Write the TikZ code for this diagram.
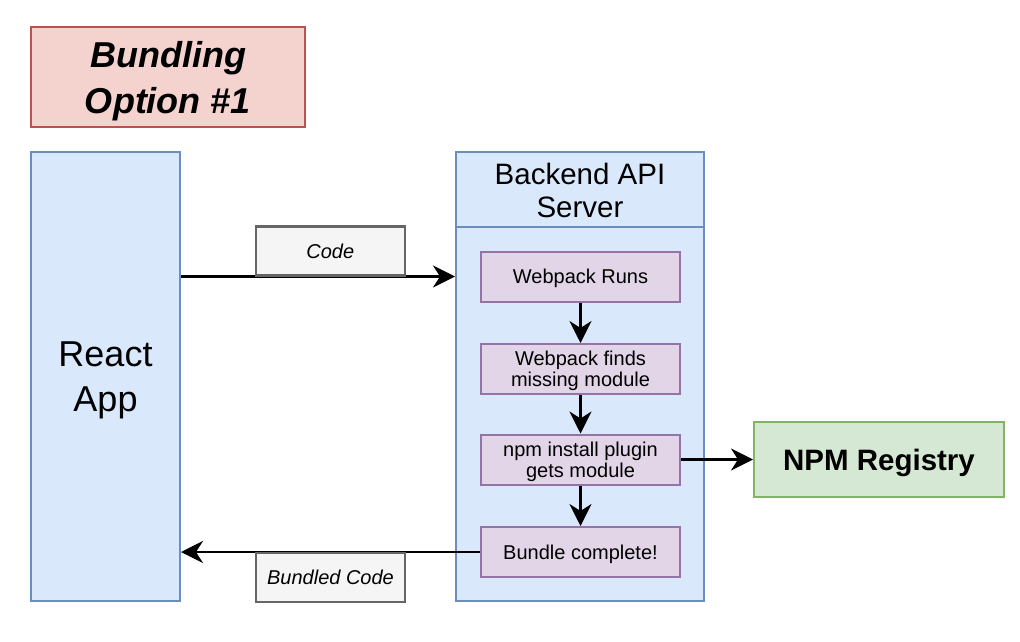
\documentclass[tikz,border=0pt]{standalone}
\usepackage{fontspec}
\setmainfont{Liberation Sans}
\usetikzlibrary{arrows.meta}
\definecolor{redfill}{HTML}{F4D3CF}
\definecolor{redline}{HTML}{B85450}
\definecolor{bluefill}{HTML}{DAE8FC}
\definecolor{blueline}{HTML}{6C8EBF}
\definecolor{purplefill}{HTML}{E1D5E7}
\definecolor{purpleline}{HTML}{9673A6}
\definecolor{greenfill}{HTML}{D5E8D4}
\definecolor{greenline}{HTML}{82B366}
\definecolor{grayfill}{HTML}{F5F5F5}
\definecolor{grayline}{HTML}{666666}
\begin{document}
\begin{tikzpicture}[x=1pt,y=-1pt,line width=2pt,
  every node/.append style={font=\fontsize{20}{21}\selectfont,align=center,inner sep=0pt,text depth=0pt},
  titlebox/.style={draw=redline,fill=redfill,minimum width=274,minimum height=100,font=\fontsize{36}{46}\selectfont\bfseries\itshape},
  bigbox/.style={draw=blueline,fill=bluefill,minimum width=#1,minimum height=449},
  stepbox/.style={draw=purpleline,fill=purplefill,minimum width=199,minimum height=50},
  regbox/.style={draw=greenline,fill=greenfill,minimum width=250,minimum height=75,font=\fontsize{29.5}{34}\selectfont\bfseries},
  labelbox/.style={draw=grayline,fill=grayfill,minimum width=149,minimum height=49,font=\fontsize{20}{21}\selectfont\itshape},
  flow/.style={line width=2.2pt,-{Stealth[length=22pt,width=22pt,inset=7pt]}}]
  \useasboundingbox(0,0)rectangle(1020,642);
  \node[titlebox](title)at(168,77){Bundling\\Option \#1};
  \node[bigbox=149,font=\fontsize{36}{45}\selectfont](react)at(105.5,376.5){React\\App};
  \node[bigbox=248](backend)at(580,376.5){};
  \node[font=\fontsize{29.5}{33.5}\selectfont](head)at(580,190.5){Backend API\\Server};
  \draw[color=blueline](backend.west|-0,227)--(backend.east|-0,227);
  \node[stepbox](runs)at(580.5,276.5){Webpack Runs};
  \node[stepbox](finds)at(580.5,369){Webpack finds\\missing module};
  \node[stepbox](npm)at(580.5,459.5){npm install plugin\\gets module};
  \node[stepbox](bundle)at(580.5,552){Bundle complete!};
  \node[regbox](registry)at(879,459.5){NPM Registry};
  \draw[flow](react.east|-runs)--node[labelbox,pos=.545,above]{Code}(backend.west|-runs);
  \draw[flow](bundle.west)--node[labelbox,pos=.5,below]{Bundled Code}(react.east|-bundle);
  \draw[flow](runs)--(finds);
  \draw[flow](finds)--(npm);
  \draw[flow](npm)--(bundle);
  \draw[flow](npm)--(registry);
\end{tikzpicture}
\end{document}
